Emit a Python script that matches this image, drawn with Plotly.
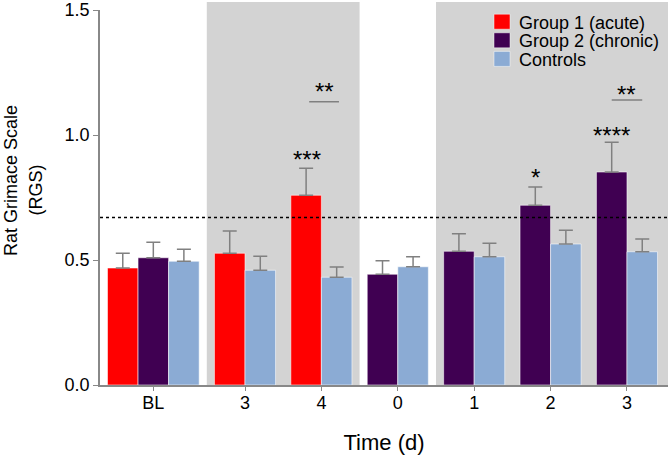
import plotly.graph_objects as go

# ---- data ----
tick_labels = ["BL", "3", "4", "0", "1", "2", "3"]

g1_mean = [0.468, 0.527, 0.759]          # BL, d3, d4
g1_err = [0.059, 0.089, 0.108]

g2_mean = [0.509, 0.443, 0.535, 0.719, 0.852]   # BL, d0, d1, d2, d3
g2_err = [0.062, 0.054, 0.070, 0.073, 0.119]

ct_mean = [0.495, 0.459, 0.431, 0.473, 0.513, 0.564, 0.533]
ct_err = [0.048, 0.056, 0.041, 0.040, 0.054, 0.055, 0.051]

threshold = 0.67

series_names = ["Group 1 (acute)", "Group 2 (chronic)", "Controls"]
colors = ["#FF0000", "#400052", "#8BABD4"]

# ---- layout positions (axis units) ----
W = 0.4
tick_pos = [-0.2, 1, 2, 3, 4, 5, 6]
g1_x = [tick_pos[0] - W, tick_pos[1] - W / 2, tick_pos[2] - W / 2]
g2_x = [tick_pos[0]] + [p - W / 2 for p in tick_pos[3:]]
ct_x = [tick_pos[0] + W] + [p + W / 2 for p in tick_pos[1:]]

PX_L, PX_T, PX_R, PX_B = 100, 10, 668, 385  # plot area in page pixels
PW, PH = PX_R - PX_L, PX_B - PX_T

def px(xp):
    return (xp - PX_L) / PW

def py(yp):
    return (PX_B - yp) / PH

FONT = "Arial, Liberation Sans, sans-serif"

fig = go.Figure()

# shaded periods
for x0, x1 in [(0.5, 2.5), (3.5, 7.0)]:
    fig.add_shape(type="rect", xref="x", yref="paper", x0=x0, x1=x1, y0=0, y1=py(2),
                  fillcolor="#D3D3D3", line_width=0, layer="below")

for xs, m, e, name, c in zip([g1_x, g2_x, ct_x], [g1_mean, g2_mean, ct_mean],
                             [g1_err, g2_err, ct_err], series_names, colors):
    fig.add_trace(go.Bar(
        x=xs, y=m, width=W, name=name, showlegend=False,
        marker=dict(color=c, line=dict(color="rgba(255,255,255,0.7)", width=0.8)),
        error_y=dict(type="data", symmetric=False, array=e, arrayminus=[0] * len(e),
                     color="#808080", thickness=1.5, width=7),
    ))

# threshold line
fig.add_shape(type="line", xref="paper", yref="y", x0=0, x1=1, y0=threshold, y1=threshold,
              line=dict(color="black", width=1.6, dash="dot"))

# significance
star_font = dict(family=FONT, size=24, color="black")
stars = [
    (1.81, 0.904, "***"),
    (4.8, 0.830, "*"),
    (5.8, 0.998, "****"),
    (2.04, 1.174, "**"),
    (6.0, 1.163, "**"),
]
for x, y, t in stars:
    fig.add_annotation(x=x, y=y, text=t, showarrow=False, font=star_font,
                       xanchor="center", yanchor="middle")
for x0, x1, y in [(1.84, 2.23, 1.133), (5.8, 6.2, 1.14)]:
    fig.add_shape(type="line", xref="x", yref="y", x0=x0, x1=x1, y0=y, y1=y,
                  line=dict(color="#808080", width=1.5))

# legend (drawn)
txt_font = dict(family=FONT, size=18, color="black")
for i, (name, c) in enumerate(zip(series_names, colors)):
    yc = 21.7 + i * 18.6
    fig.add_shape(type="rect", xref="paper", yref="paper",
                  x0=px(494), x1=px(510), y0=py(yc - 7.5), y1=py(yc + 7.5),
                  fillcolor=c, line=dict(color="rgba(255,255,255,0.6)", width=0.8))
    fig.add_annotation(xref="paper", yref="paper", x=px(517), y=py(yc + 1),
                       text=name, showarrow=False, font=txt_font,
                       xanchor="left", yanchor="middle")

# y title (two lines)
fig.add_annotation(xref="paper", yref="paper", x=px(11), y=py(180),
                   text="Rat Grimace Scale", textangle=-90, showarrow=False,
                   font=txt_font, xanchor="center", yanchor="middle")
fig.add_annotation(xref="paper", yref="paper", x=px(36), y=py(190.5),
                   text="(RGS)", textangle=-90, showarrow=False,
                   font=txt_font, xanchor="center", yanchor="middle")

fig.update_layout(
    width=668, height=457,
    margin=dict(l=PX_L, r=668 - PX_R, t=PX_T, b=457 - PX_B),
    plot_bgcolor="white", paper_bgcolor="white",
    barmode="overlay",
    font=dict(family=FONT, size=18, color="black"),
    showlegend=False,
    xaxis=dict(range=[-0.898, 6.537], tickvals=tick_pos, ticktext=tick_labels,
               showline=True, linecolor="#888888", linewidth=1.5,
               ticks="outside", ticklen=4, tickcolor="#888888", tickwidth=1.2,
               ticklabelstandoff=-3,
               showgrid=False, zeroline=False,
               title=dict(text="Time (d)", standoff=22)),
    yaxis=dict(range=[0, 1.5], tickvals=[0, 0.5, 1.0, 1.5], tickformat=".1f",
               showline=True, linecolor="#888888", linewidth=1.5,
               ticks="outside", ticklen=5, tickcolor="#888888", tickwidth=1.2,
               showgrid=False, zeroline=False),
)

fig.write_html("out.html", config={"displayModeBar": False},
               post_script="document.body.style.margin='0px';")
